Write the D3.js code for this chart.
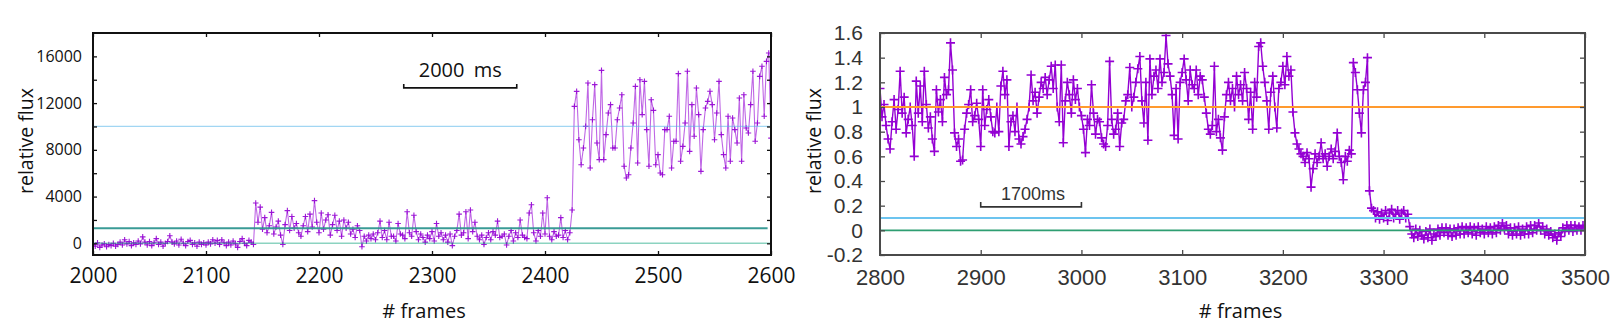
<!DOCTYPE html>
<html>
<head>
<meta charset="utf-8">
<script src="https://cdn.jsdelivr.net/npm/d3@7"></script>
<style>
  html, body { margin: 0; padding: 0; background: #fff; }
  svg { display: block; }
</style>
</head>
<body>
<svg id="fig" width="1622" height="335"></svg>
<script>
// ---------- data: left light curve (every 2nd frame, 2000..2600) ----------
const leftFrameRange = [2000, 2600, 2];
const leftFlux = [
  -100, -250, 50, -350, -150,
  -50, -300, -100, -200, 0,
  -250, -100, 100, -150, 300,
  -50, 150, -200, 50, -100,
  200, -50, 550, 100, -150,
  150, -200, 50, 400, -100,
  100, -250, 0, 150, 650,
  100, -50, 200, -150, 350,
  0, -200, 150, 250, -100,
  50, -250, 100, -100, 50,
  -150, 100, -50, 300, 0,
  250, -100, 300, 50, -200,
  100, -150, 200, -50, -350,
  150, 400, 0, -200, 250,
  100, -100,
  3450, 1800, 3100, 1200, 2200,
  900, 1500, 2650, 800, 1400,
  1900, 700, -100, 1600, 2800,
  1100, 2300, 1300, 1700, 900,
  600, 1500, 2300, 1000, 2500,
  1400, 3650, 1800, 900, 2600,
  1200, 2000, 2450, 700, 1600,
  2400, 1100, 1900, 600, 2000,
  1300, 1800, 800, 1200, 500,
  1500,
  1100, -300, 600, 200, 700,
  400, 800, 300, 900, 1900,
  500, 1100, 300, 1800, 600,
  600, 200, 1700, 800, 700,
  400, 2700, 900, 600, 2400,
  1000, 300, 800, 500, 100,
  700, 400, 1000, 200, 1700,
  600, 900, 300, 700, 100,
  800, -200, 600, 1100, 2500,
  700, 900, 2700, 400, 2850,
  1000, 1800, 600, 300, 700,
  -100, 500, 900, 300, 1000,
  700, 1900, 500, 600, 800,
  -150, 600, 1100, 200, 900,
  500, 2000, 700, 500, 400,
  2600, 3300, 900, 200, 1100,
  600, 2600, 800, 3900, 600,
  300, 1000, 600, 700, 2200,
  500, 1100, 300, 900, 2850,
  11720, 13000, 8870, 6730, 8160,
  10010, 13720, 6450, 10580, 13580,
  8580, 7160, 14800, 7160, 9300,
  11150, 11870, 8160, 8160, 10580,
  11580, 12720, 6590, 5590, 5870,
  8160, 10300, 13430, 6870, 14000,
  11010, 13860, 9730, 6590, 12290,
  11380, 6730, 7590, 6020, 5870,
  9730, 9730, 10870, 6450, 8730,
  8730, 14520, 7020, 8300, 10300,
  14720, 7870, 11870, 9160, 13290,
  11010, 6160, 9730, 11580, 12150,
  13010, 11870, 8870, 11150, 13860,
  9300, 7590, 6450, 10870, 7020,
  10730, 9730, 8580, 12440, 7020,
  12720, 9870, 9440, 11870, 14720,
  8730, 10300, 14290, 15150, 10870,
  15570, 16290, 9000
];
const leftRefLevels = [10000, 1300, 0];
const leftXTicks = [2000, 2100, 2200, 2300, 2400, 2500, 2600];
const leftYTicks = [0, 2000, 4000, 6000, 8000, 10000, 12000, 14000, 16000];
const leftYTickLabels = ["0", "", "4000", "", "8000", "", "12000", "", "16000"];
const leftBarFrames = [2275, 2375];
const leftBarLevel = 13300;
const leftBarText = "2000 ms";

// ---------- data: right light curve (every 2nd frame, 2800..3500) ----------
const rightFrameRange = [2800, 3500, 2];
const rightFlux = [
  1.15, 0.92, 1.02, 0.85, 0.74,
  0.66, 0.88, 1.06, 0.82, 0.98,
  1.29, 0.95, 1.08, 0.79, 0.90,
  1.00, 0.85, 0.60, 1.21, 0.95,
  1.17, 0.88, 1.29, 1.02, 0.83,
  0.92, 0.74, 0.64, 1.14, 0.96,
  1.06, 0.88, 1.24, 1.10, 1.14,
  1.52, 1.30, 0.79, 0.68, 0.74,
  0.56, 0.57, 0.82, 0.95, 1.02,
  1.14, 0.88, 0.93, 1.03, 0.90,
  0.68, 1.14, 0.85, 0.98, 1.06,
  0.92, 0.80, 0.79, 1.00, 0.80,
  1.17, 1.29, 1.10, 1.22, 0.68,
  0.88, 0.93, 0.80, 1.00, 0.74,
  0.70, 0.76, 0.82, 0.90, 1.00,
  1.26, 1.05, 1.12, 0.95, 1.08,
  1.20, 1.15, 1.24, 1.10, 1.22,
  1.33, 1.15, 1.34, 1.00, 0.88,
  1.34, 0.71, 1.05, 1.20, 1.10,
  0.95, 1.22, 1.06, 1.15, 1.00,
  0.93, 0.82, 0.63, 0.90, 0.85,
  1.18, 0.95, 0.78, 0.90, 0.88,
  0.75, 0.70, 0.68, 0.85, 1.37,
  0.90, 0.78, 0.82, 0.95, 0.68,
  0.87, 0.90, 1.05, 1.10, 1.32,
  1.00, 1.08, 1.20, 1.31, 1.41,
  1.05, 0.87, 1.20, 0.73, 1.39,
  1.10, 1.25, 1.30, 1.15, 1.39,
  1.20, 1.28, 1.58, 1.35, 1.25,
  1.10, 0.77, 1.15, 0.74, 1.20,
  1.28, 1.39, 1.22, 1.05, 1.30,
  1.18, 1.15, 1.30, 1.10, 1.25,
  1.22, 1.08, 0.95, 0.82, 0.78,
  0.85, 1.33, 0.80, 0.90, 0.75,
  0.65, 0.92, 1.10, 1.20, 1.05,
  1.15, 1.00, 1.25, 1.10, 1.18,
  1.05, 1.28, 1.15, 0.90, 1.12,
  0.82, 1.20, 1.08, 1.49, 1.52,
  1.33, 1.20, 1.05, 0.82, 1.12,
  1.25, 1.00, 0.83, 1.15, 1.20,
  1.33, 1.18, 1.41, 1.25, 1.30,
  0.96, 0.79, 0.70, 0.66, 0.62,
  0.60, 0.55, 0.63, 0.58, 0.35,
  0.50, 0.62, 0.55, 0.60, 0.71,
  0.58, 0.62, 0.52, 0.60, 0.66,
  0.58, 0.64, 0.79, 0.60, 0.55,
  0.41, 0.60, 0.56, 0.65, 0.62,
  1.36, 1.28, 1.14, 0.95, 0.79,
  1.14, 1.20, 1.40, 0.32, 0.18,
  0.16, 0.10, 0.15, 0.09, 0.14,
  0.10, 0.16, 0.08, 0.14, 0.17,
  0.10, 0.13, 0.16, 0.09, 0.14,
  0.16, 0.10, 0.13, 0.03, -0.03,
  -0.06, 0.01, -0.05, 0.00, -0.04,
  -0.07, -0.01, -0.06, 0.01, -0.08,
  -0.03, -0.05, 0.01, -0.04, 0.02,
  -0.02, 0.02, -0.04, 0.01, -0.05,
  0.01, -0.04, 0.02, -0.03, 0.03,
  -0.03, 0.02, -0.02, 0.03, -0.03,
  0.02, -0.04, 0.03, -0.02, 0.01,
  -0.03, 0.03, -0.02, 0.02, -0.03,
  0.03, -0.02, 0.04, 0.00, 0.06,
  0.01, 0.04, -0.03, 0.02, -0.04,
  0.02, -0.03, 0.03, -0.04, 0.01,
  -0.03, 0.03, -0.03, 0.04, -0.02,
  0.04, 0.00, 0.06, 0.00, 0.03,
  -0.03, 0.01, -0.04, -0.01, -0.06,
  -0.03, -0.08, -0.02, -0.05, 0.02,
  -0.01, 0.04, 0.00, 0.04, -0.01,
  0.04, 0.00, 0.03, 0.00, 0.04,
  0.02
];
const rightRefLevels = [1, 0.1, 0];
const rightXTicks = [2800, 2900, 3000, 3100, 3200, 3300, 3400, 3500];
const rightYTicks = [-0.2, 0, 0.2, 0.4, 0.6, 0.8, 1, 1.2, 1.4, 1.6];
const rightYTickLabels = ["-0.2", "0", "0.2", "0.4", "0.6", "0.8", "1", "1.2", "1.4", "1.6"];
const rightBarFrames = [2900, 3000];
const rightBarLevel = 0.19;
const rightBarText = "1700ms";

const axisTitleX = "# frames";
const axisTitleY = "relative flux";

// ---------- drawing ----------
const svg = d3.select("#fig");
const VIOLET = "#9400d3";

function framesFrom(range, n) {
  const f = d3.range(range[0], range[1] + 1, range[2]);
  return f.slice(0, n);
}

function panel(cfg) {
  const g = svg.append("g");
  const x = d3.scaleLinear().domain(cfg.xDomain).range([cfg.left, cfg.right]);
  const y = d3.scaleLinear().domain(cfg.yDomain).range([cfg.bottom, cfg.top]);
  const frames = framesFrom(cfg.frameRange, cfg.flux.length);
  const pts = frames.map((f, i) => [f, cfg.flux[i]]);

  const clipId = "clip" + cfg.id;
  svg.append("clipPath").attr("id", clipId)
    .append("rect").attr("x", cfg.left).attr("y", cfg.top)
    .attr("width", cfg.right - cfg.left).attr("height", cfg.bottom - cfg.top);

  const data = g.append("g").attr("clip-path", `url(#${clipId})`);
  data.append("path")
    .datum(pts)
    .attr("fill", "none")
    .attr("stroke", VIOLET)
    .attr("stroke-width", cfg.lineWidth)
    .attr("stroke-opacity", cfg.lineOpacity)
    .attr("d", d3.line().x(d => x(d[0])).y(d => y(d[1])));

  const s = cfg.markerSize;
  data.append("g").selectAll("path").data(pts).join("path")
    .attr("transform", d => `translate(${x(d[0])},${y(d[1])})`)
    .attr("d", `M${-s},0H${s}M0,${-s}V${s}`)
    .attr("stroke", VIOLET)
    .attr("stroke-width", cfg.markerWidth)
    .attr("stroke-opacity", cfg.markerOpacity)
    .attr("fill", "none");

  // horizontal reference levels
  cfg.refLevels.forEach((v, i) => {
    const st = cfg.refStyles[i];
    g.append("line")
      .attr("x1", x(cfg.xDomain[0])).attr("x2", x(st.end !== undefined ? st.end : cfg.xDomain[1]))
      .attr("y1", y(v)).attr("y2", y(v))
      .attr("stroke", st.color).attr("stroke-width", st.width)
      .attr("stroke-opacity", st.opacity);
  });

  // axes with inward ticks on all four sides
  const tick = cfg.tickLen;
  const bottomAxis = d3.axisBottom(x).tickValues(cfg.xTicks)
    .tickSizeInner(-tick).tickSizeOuter(0).tickPadding(cfg.xPad)
    .tickFormat(d3.format("d"));
  const topAxis = d3.axisTop(x).tickValues(cfg.xTicks)
    .tickSizeInner(-tick).tickSizeOuter(0).tickFormat("");
  const leftAxis = d3.axisLeft(y).tickValues(cfg.yTicks)
    .tickSizeInner(-tick).tickSizeOuter(0).tickPadding(cfg.yPad)
    .tickFormat((d, i) => cfg.yLabels[i]);
  const rightAxis = d3.axisRight(y).tickValues(cfg.yTicks)
    .tickSizeInner(-tick).tickSizeOuter(0).tickFormat("");

  const styleAxis = (sel, size, family) => {
    sel.select(".domain").remove();
    sel.selectAll(".tick line").attr("stroke", cfg.frameColor).attr("stroke-width", 1.3);
    sel.selectAll(".tick text").attr("fill", cfg.textColor)
      .style("font-family", family).style("font-size", size + "px");
  };
  g.append("g").attr("transform", `translate(0,${cfg.bottom})`).call(bottomAxis)
    .call(a => styleAxis(a, cfg.xFont, cfg.tickFamily));
  g.append("g").attr("transform", `translate(0,${cfg.top})`).call(topAxis)
    .call(a => styleAxis(a, cfg.xFont, cfg.tickFamily));
  g.append("g").attr("transform", `translate(${cfg.left},0)`).call(leftAxis)
    .call(a => styleAxis(a, cfg.yFont, cfg.tickFamily));
  g.append("g").attr("transform", `translate(${cfg.right},0)`).call(rightAxis)
    .call(a => styleAxis(a, cfg.yFont, cfg.tickFamily));

  // frame
  g.append("rect")
    .attr("x", cfg.left).attr("y", cfg.top)
    .attr("width", cfg.right - cfg.left).attr("height", cfg.bottom - cfg.top)
    .attr("fill", "none").attr("stroke", cfg.frameColor).attr("stroke-width", 2);

  // time scale bar
  const bx0 = x(cfg.barFrames[0]), bx1 = x(cfg.barFrames[1]), by = y(cfg.barLevel);
  g.append("path")
    .attr("d", `M${bx0},${by - cfg.barTick}V${by}H${bx1}V${by - cfg.barTick}`)
    .attr("fill", "none").attr("stroke", cfg.barColor).attr("stroke-width", 1.6);
  g.append("text")
    .attr("x", (bx0 + bx1) / 2 + cfg.barTextShift).attr("y", by - cfg.barTextGap)
    .attr("text-anchor", "middle")
    .attr("fill", cfg.barColor)
    .style("font-family", cfg.barFamily).style("font-size", cfg.barFont + "px")
    .style("word-spacing", cfg.barWordSpacing)
    .text(cfg.barText);

  // axis titles
  g.append("text")
    .attr("x", (cfg.left + cfg.right) / 2 + cfg.xTitleShift).attr("y", 318)
    .attr("text-anchor", "middle").attr("fill", "#111")
    .style("font-family", "'Open Sans'").style("font-size", "20px")
    .text(axisTitleX);
  g.append("text")
    .attr("transform", `translate(${cfg.yTitleX},141) rotate(-90)`)
    .attr("text-anchor", "middle").attr("dominant-baseline", "central").attr("fill", "#111")
    .style("font-family", "'Open Sans'").style("font-size", "19.5px")
    .text(axisTitleY);
}

panel({
  id: "L", left: 93, right: 771, top: 33, bottom: 255,
  xDomain: [2000, 2600], yDomain: [-1000, 18000],
  frameRange: leftFrameRange, flux: leftFlux,
  lineWidth: 1.1, lineOpacity: 0.6, markerSize: 2.8, markerWidth: 1.1, markerOpacity: 0.9,
  refLevels: leftRefLevels,
  refStyles: [
    { color: "#56b4e9", width: 1.2, opacity: 0.55 },
    { color: "#2f9690", width: 2, opacity: 0.95, end: 2597 },
    { color: "#009e73", width: 1.4, opacity: 0.45 }
  ],
  xTicks: leftXTicks, yTicks: leftYTicks, yLabels: leftYTickLabels,
  tickLen: 4, xPad: 13, yPad: 11, xFont: 21, yFont: 16,
  tickFamily: "'Open Sans'", textColor: "#111", frameColor: "#111",
  barFrames: leftBarFrames, barLevel: leftBarLevel, barText: leftBarText,
  barTick: 4, barTextGap: 11, barTextShift: 0, barFont: 20, barFamily: "'Open Sans'",
  barColor: "#111", barWordSpacing: "4px",
  xTitleShift: -8, yTitleX: 25
});

panel({
  id: "R", left: 880, right: 1585, top: 33, bottom: 255,
  xDomain: [2800, 3500], yDomain: [-0.2, 1.6],
  frameRange: rightFrameRange, flux: rightFlux,
  lineWidth: 1.4, lineOpacity: 1, markerSize: 4.5, markerWidth: 1.6, markerOpacity: 1,
  refLevels: rightRefLevels,
  refStyles: [
    { color: "#ff9a2e", width: 2, opacity: 1 },
    { color: "#6cc4ef", width: 2, opacity: 1 },
    { color: "#2e9e72", width: 1.6, opacity: 1 }
  ],
  xTicks: rightXTicks, yTicks: rightYTicks, yLabels: rightYTickLabels,
  tickLen: 5, xPad: 14, yPad: 17, xFont: 22, yFont: 21,
  tickFamily: "'Liberation Sans'", textColor: "#333", frameColor: "#4a4a4a",
  barFrames: rightBarFrames, barLevel: rightBarLevel, barText: rightBarText,
  barTick: 5, barTextGap: 7, barTextShift: 2, barFont: 18, barFamily: "'Liberation Sans'",
  barColor: "#333", barWordSpacing: "0px",
  xTitleShift: 8, yTitleX: 813
});
</script>
</body>
</html>
